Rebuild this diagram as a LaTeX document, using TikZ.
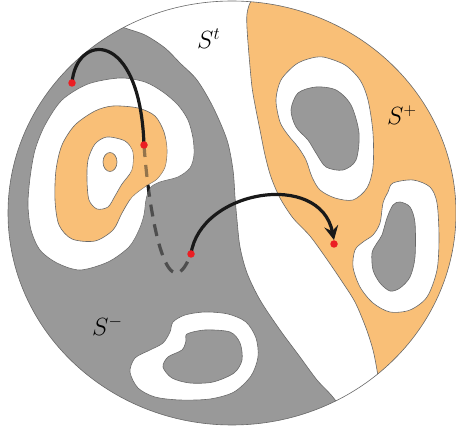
\documentclass[tikz,border=0pt]{standalone}
\usetikzlibrary{arrows.meta}
\definecolor{graycol}{RGB}{153,153,153}
\definecolor{orcol}{RGB}{249,191,119}
\definecolor{bordercol}{RGB}{105,105,105}
\definecolor{dotred}{RGB}{235,30,35}
\tikzset{
  bd/.style={draw=bordercol, line width=0.6pt},
  grayfill/.style={fill=graycol, bd},
  orfill/.style={fill=orcol, bd},
  whfill/.style={fill=white, bd},
  curve/.style={line width=3.2pt, draw=black!90},
  dashcurve/.style={curve, dash pattern=on 12pt off 8pt},
  dot/.style={circle, fill=dotred, inner sep=0pt, minimum size=7.5pt},
  lbl/.style={font=\fontsize{25}{25}\selectfont, inner sep=0pt}
}
\def\graypoly{(-20,-20) -- (90,-20) -- plot[smooth] coordinates {(100,12) (112,22) (125,28) (145,35) (165,48) (180,63) (197,80) (213,107) (227,140) (233,170) (235,197) (237,220) (240,247) (247,273) (260,300) (280,330) (300,357) (317,380) (332,396) (345,414) (352,432)} -- (352,450) -- (-20,450) -- cycle}
\def\orpoly{(480,-20) -- (262,-20) -- plot[smooth] coordinates {(257,-6) (250,3) (247,14) (247,28) (249,55) (252,87) (256,110) (260,130) (265,155) (271,177) (280,198) (293,218) (310,236) (326,258) (341,280) (355,302) (366,328) (373,350) (377,370) (380,390) (382,410)} -- (480,410) -- cycle}
\def\ringpath{plot[smooth cycle] coordinates {(120,78) (145,82) (163,92) (178,105) (188,120) (193,138) (194,155) (190,168) (178,177) (160,182) (150,188) (146,200) (144,215) (139,230) (129,247) (108,262) (80,270) (57,263) (40,250) (31,230) (28,205) (30,178) (35,150) (45,125) (62,100) (88,84)}}
\def\orblob{plot[smooth cycle] coordinates {(113,106) (138,108) (155,116) (164,132) (167,150) (165,167) (157,179) (146,186) (132,197) (122,213) (113,230) (95,241) (72,239) (59,225) (55,200) (56,170) (62,145) (75,125) (95,111)}}
\def\whhole{plot[smooth cycle] coordinates {(107,137) (125,141) (133,152) (132,170) (122,184) (115,196) (108,207) (97,209) (89,200) (87,180) (88,160) (95,144)}}
\begin{document}
\begin{tikzpicture}[x=1pt, y=-1pt]
\useasboundingbox (0,0) rectangle (456,433);
% disk
\fill[white] (232,213) ellipse [x radius=224pt, y radius=212pt];
\begin{scope}
  \clip (232,213) ellipse [x radius=224pt, y radius=212pt];
  \filldraw[grayfill] \graypoly;
  \filldraw[orfill] \orpoly;
\end{scope}
\draw[bd] (232,213) ellipse [x radius=224pt, y radius=212pt];
% S^- components
\filldraw[whfill] \ringpath;
\filldraw[orfill] \orblob;
\filldraw[whfill] \whhole;
\filldraw[orfill] (110,162) ellipse [x radius=7pt, y radius=9.5pt];
\filldraw[whfill] plot[smooth cycle] coordinates {(173,322) (185,315) (205,312) (228,314) (246,322) (256,338) (258,357) (251,376) (234,392) (210,399) (180,400) (155,397) (138,388) (130,372) (135,358) (150,350) (163,343) (170,332)};
\filldraw[grayfill] plot[smooth cycle] coordinates {(187,334) (205,330) (230,332) (240,343) (242,360) (234,373) (213,382) (190,383) (172,378) (163,367) (168,357) (182,350) (186,341)};
% S^+ components
\filldraw[whfill] plot[smooth cycle] coordinates {(323,57) (345,65) (360,80) (368,100) (373,133) (373,167) (367,188) (353,200) (335,198) (320,190) (312,177) (306,160) (298,147) (288,135) (280,122) (276,100) (281,80) (295,65) (308,59)};
\filldraw[grayfill] plot[smooth cycle] coordinates {(316,87) (336,90) (351,105) (359,133) (356,160) (343,170) (326,167) (316,153) (308,140) (296,127) (291,110) (298,93)};
\filldraw[whfill] plot[smooth cycle] coordinates {(393,183) (413,180) (430,187) (437,203) (439,237) (437,270) (427,297) (410,310) (390,312) (373,303) (360,287) (353,267) (355,250) (363,242) (373,235) (380,223) (383,203) (388,192)};
\filldraw[grayfill] plot[smooth cycle] coordinates {(400,202) (410,207) (415,223) (415,257) (410,277) (400,288) (390,291) (380,283) (373,270) (372,253) (377,243) (382,235) (387,218) (393,205)};
% labels
\node[lbl, anchor=base west] (lt) at (197,48.5) {$S^t$};
\node[lbl, anchor=base west] (lp) at (387,124.5) {$S^+$};
\node[lbl, anchor=base west] (lm) at (92,335.5) {$S^-$};
% path points
\coordinate (a) at (72,83);
\coordinate (b) at (144,145);
\coordinate (c) at (191,254);
\coordinate (d) at (334,244);
\coordinate (tipd) at (334,240);
% dashed part (behind the surface)
\draw[dashcurve] (b) .. controls (149,215) and (167,315) .. (c);
\begin{scope}
  \clip (130,140) rectangle (200,290);
  \fill[orcol, opacity=0.55, even odd rule] \orblob \whhole;
  \begin{scope}
    \clip (232,213) ellipse [x radius=224pt, y radius=212pt];
    \fill[graycol, opacity=0.42, even odd rule] \graypoly \ringpath;
  \end{scope}
\end{scope}
% solid parts
\draw[curve] (a) .. controls (76,33) and (140,28) .. (b);
\draw[curve, -{Stealth[length=14pt, width=14pt, inset=5pt]}] (c) .. controls (200,190) and (320,170) .. (tipd);
% dots
\node[dot] (da) at (a) {};
\node[dot] (db) at (b) {};
\node[dot] (dc) at (c) {};
\node[dot] (dd) at (d) {};
\end{tikzpicture}
\end{document}
